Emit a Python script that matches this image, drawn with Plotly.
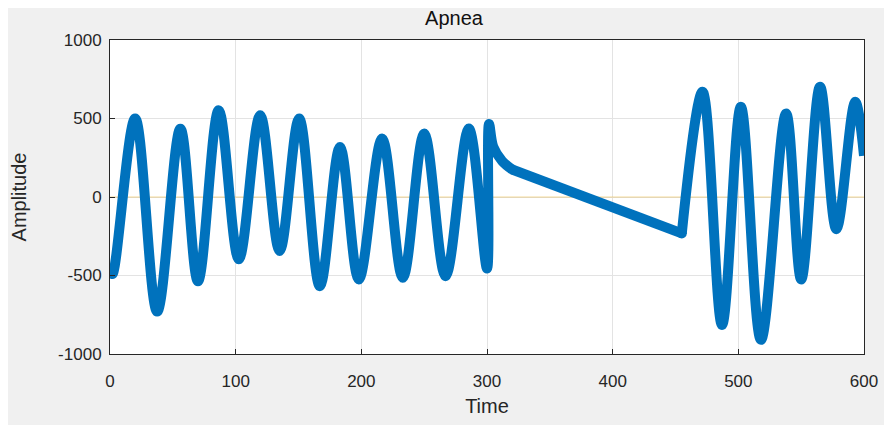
import plotly.graph_objects as go

# Key points (time, amplitude), in three parts
time_breathing_1 = [0, 2, 20, 37.5, 56, 70, 86.5, 102.5, 119.5, 135, 150.5, 167, 183, 198,
                    216.5, 233, 250, 267, 285.5, 300, 301.6, 305, 312, 320]
amp_breathing_1 = [-450, -490, 500, -730, 435, -537, 553, -397, 521, -344, 500, -568, 318, -525,
                   372, -515, 404, -504, 436, -455, 465, 320, 230, 175]

time_apnea = [320, 349, 380, 455]
amp_apnea = [175, 84, -5, -232]

time_breathing_2 = [455, 471.5, 487, 502, 518, 538, 550, 565, 578, 593, 600]
amp_breathing_2 = [-232, 670, -815, 575, -910, 532, -525, 703, -205, 607, 263]

zero_time = [0, 600]
zero_amp = [0, 0]

x_ticks = [0, 100, 200, 300, 400, 500, 600]
y_ticks = [-1000, -500, 0, 500, 1000]

BLUE = "#0072BD"
fig = go.Figure()
fig.add_trace(go.Scatter(x=zero_time, y=zero_amp, mode="lines",
                         line=dict(color="#EDB120", width=1), opacity=0.45,
                         showlegend=False, hoverinfo="skip"))
fig.add_trace(go.Scatter(x=time_breathing_1, y=amp_breathing_1, mode="lines",
                         line=dict(color=BLUE, width=10, shape="spline", smoothing=1.0),
                         showlegend=False))
fig.add_trace(go.Scatter(x=time_apnea, y=amp_apnea, mode="lines",
                         line=dict(color=BLUE, width=10, shape="linear"),
                         showlegend=False))
fig.add_trace(go.Scatter(x=time_breathing_2, y=amp_breathing_2, mode="lines",
                         line=dict(color=BLUE, width=10, shape="spline", smoothing=1.0),
                         showlegend=False))
# round joints where the parts meet
fig.add_trace(go.Scatter(x=[time_apnea[0], time_apnea[-1]],
                         y=[amp_apnea[0], amp_apnea[-1]],
                         mode="markers", marker=dict(color=BLUE, size=10, line_width=0),
                         showlegend=False, hoverinfo="skip"))

FAM = "Liberation Sans, Arial, sans-serif"
font = dict(family=FAM, size=17, color="#262626")
title_font = dict(family=FAM, size=20, color="#262626")
axis_common = dict(showline=True, mirror=True, linecolor="#262626", linewidth=1,
                   showgrid=True, gridcolor="#e3e3e3", gridwidth=1,
                   ticks="inside", ticklen=5, tickcolor="#262626",
                   zeroline=False, tickfont=font, automargin=False)

fig.update_xaxes(range=[0, 600], tickvals=x_ticks, ticktext=[str(v) for v in x_ticks],
                 ticklabelstandoff=12,
                 title=dict(text="Time", font=title_font, standoff=8), **axis_common)
fig.update_yaxes(range=[-1000, 1000], tickvals=y_ticks, ticktext=[str(v) for v in y_ticks],
                 ticklabelstandoff=4,
                 title=dict(text="Amplitude", font=title_font, standoff=26), **axis_common)

# the page body has an 8px margin, so the figure is offset by 8px
W, H = 892, 425
ml, mr, mt, mb = 102, 36, 32, 79

fig.update_layout(
    width=W, height=H,
    margin=dict(l=ml, r=mr, t=mt, b=mb),
    paper_bgcolor="#f0f0f0", plot_bgcolor="white",
    title=dict(text="Apnea", x=0.5, xanchor="center", y=1 - 10 / H, yanchor="middle",
               font=dict(family=FAM, size=20, color="#111111")),
)

fig.write_html("out.html")
